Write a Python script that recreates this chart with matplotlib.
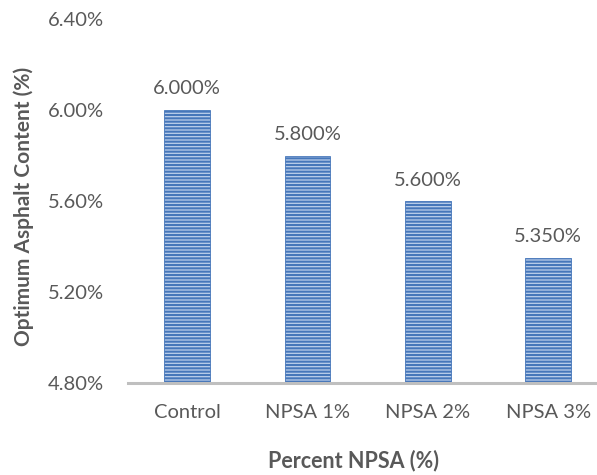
import matplotlib
matplotlib.use("Agg")
import matplotlib.pyplot as plt
from matplotlib.ticker import FixedLocator, FuncFormatter

plt.rcParams['font.family'] = ['Lato', 'DejaVu Sans']
plt.rcParams['hatch.color'] = '#4677BA'
plt.rcParams['hatch.linewidth'] = 1.5

categories = ["Control", "NPSA 1%", "NPSA 2%", "NPSA 3%"]
oac_values = [6.000, 5.800, 5.600, 5.350]
y_ticks = [4.80, 5.20, 5.60, 6.00, 6.40]

text_color = '#595959'

fig = plt.figure(figsize=(5.97, 4.75), dpi=100)
W, H = 597, 475
left_px, right_px, top_px, bottom_px = 128, 597, 19, 383
ax = fig.add_axes([left_px / W, 1 - bottom_px / H,
                   (right_px - left_px) / W, (bottom_px - top_px) / H])

x = list(range(len(categories)))
bars = ax.bar(x, [v - 4.80 for v in oac_values], bottom=4.80, width=0.38,
              color='#BCCFEB', edgecolor='#4677BA', linewidth=0.6,
              hatch='-----')

for xi, v in zip(x, oac_values):
    ax.annotate(f"{v:.3f}%", (xi, v), xytext=(0, 9), textcoords='offset points',
                ha='center', va='bottom', fontsize=14.5, color=text_color)

ax.set_xlim(-0.49, 3.405)
ax.set_ylim(4.80, 6.40)
ax.yaxis.set_major_locator(FixedLocator(y_ticks))
ax.yaxis.set_major_formatter(FuncFormatter(lambda v, p: f"{v:.2f}%"))
ax.set_xticks(x)
ax.set_xticklabels(categories)

for s in ['top', 'right', 'left']:
    ax.spines[s].set_visible(False)
ax.spines['bottom'].set_color('#BFBFBF')
ax.spines['bottom'].set_linewidth(2.2)
ax.tick_params(axis='both', length=0, labelsize=14.5, labelcolor=text_color)
ax.tick_params(axis='x', pad=15)
ax.tick_params(axis='y', pad=17)

fig.text(24 / W, 1 - 206 / H, "Optimum Asphalt Content (%)", rotation=90,
         ha='center', va='center', fontsize=15, fontweight='bold', color=text_color)
fig.text(353 / W, 1 - 461 / H, "Percent NPSA (%)", ha='center', va='center',
         fontsize=15.5, fontweight='bold', color=text_color)

fig.savefig("out.png", dpi=100)
